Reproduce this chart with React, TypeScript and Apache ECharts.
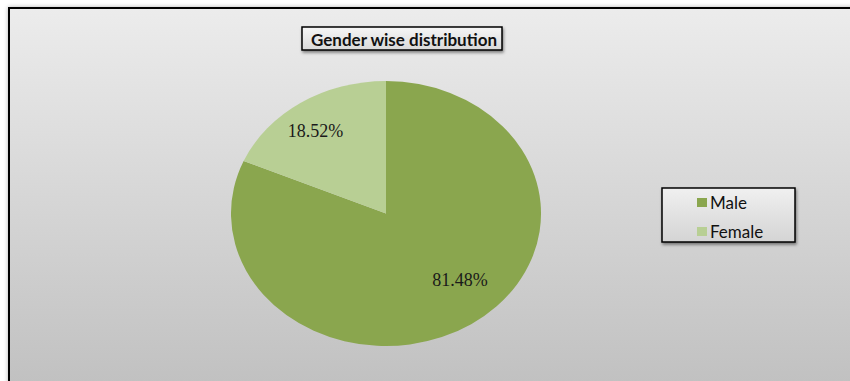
import React, { useEffect, useRef } from "react";
import * as echarts from "echarts";

const categories = ["Male", "Female"];
const percents = [81.48, 18.52];
const colors = ["#8aa64e", "#b8cf94"];
const labelTexts = ["81.48%", "18.52%"];
const titleText = "Gender wise distribution";

// layout (pixels)
const CX = 386;
const CY = 213.5;
const RY = 132.5;
const RX = 155;
const labelRadiusX = [0.87, 0.828];
const labelRadiusY = [0.6, 0.746];

function buildSeries() {
  const total = percents.reduce((a, b) => a + b, 0);
  return categories.map((name, i) => ({
    type: "custom",
    name,
    coordinateSystem: "none",
    itemStyle: { color: colors[i] },
    data: [[percents[i]]],
    renderItem: (params: any, api: any) => {
      const idx = params.seriesIndex;
      let before = 0;
      for (let k = 0; k < idx; k++) before += percents[k];
      const v = api.value(0);
      const start = -Math.PI / 2 + (before / total) * Math.PI * 2;
      const end = start + (v / total) * Math.PI * 2;
      const mid = (start + end) / 2;
      return {
        type: "group",
        children: [
          {
            type: "sector",
            x: CX,
            y: CY,
            scaleX: RX / RY,
            scaleY: 1,
            shape: { cx: 0, cy: 0, r: RY, r0: 0, startAngle: start, endAngle: end, clockwise: true },
            style: { fill: colors[idx] },
          },
          {
            type: "text",
            x: CX + Math.cos(mid) * RX * labelRadiusX[idx],
            y: CY + Math.sin(mid) * RY * labelRadiusY[idx],
            style: {
              text: labelTexts[idx],
              fill: "#1a1a1a",
              font: "18px 'Liberation Serif'",
              align: "center",
              verticalAlign: "middle",
            },
          },
        ],
      };
    },
  }));
}

export default function App() {
  const ref = useRef<HTMLDivElement>(null);
  useEffect(() => {
    document.body.style.margin = "0";
    const chart = echarts.init(ref.current!, null, { renderer: "svg" });
    const boxFill = new echarts.graphic.LinearGradient(0, 0, 0, 1, [
      { offset: 0, color: "#f6f6f6" },
      { offset: 1, color: "#d9d9d9" },
    ]);
    chart.setOption({
      animation: false,
      backgroundColor: "#ffffff",
      legend: {
        orient: "vertical",
        left: 697,
        top: 194,
        itemWidth: 10,
        itemHeight: 9,
        itemGap: 12,
        icon: "rect",
        data: categories,
        textStyle: { fontFamily: "Lato", fontSize: 17, color: "#111", padding: [0, 0, 0, -2] },
        padding: 0,
      },
      graphic: [
        {
          type: "rect",
          z: -10,
          shape: { x: 9, y: 8, width: 900, height: 400 },
          style: {
            fill: new echarts.graphic.LinearGradient(0, 0, 0, 1, [
              { offset: 0, color: "#ececec" },
              { offset: 1, color: "#bebebe" },
            ]),
            stroke: "#000",
            lineWidth: 2,
            shadowBlur: 4,
            shadowColor: "rgba(0,0,0,0.3)",
          },
        },
        {
          type: "rect",
          z: -5,
          shape: { x: 302, y: 27, width: 200, height: 23 },
          style: {
            fill: boxFill,
            stroke: "#000",
            lineWidth: 1.5,
            shadowBlur: 3,
            shadowOffsetX: 1,
            shadowOffsetY: 2,
            shadowColor: "rgba(0,0,0,0.45)",
          },
        },
        {
          type: "text",
          z: 5,
          x: 404,
          y: 39,
          style: {
            text: titleText,
            font: "bold 17px Lato",
            fill: "#111",
            align: "center",
            verticalAlign: "middle",
          },
        },
        {
          type: "rect",
          z: -5,
          shape: { x: 662, y: 188, width: 133, height: 54 },
          style: {
            fill: new echarts.graphic.LinearGradient(0, 0, 0, 1, [
              { offset: 0, color: "#f0f0f0" },
              { offset: 1, color: "#d4d4d4" },
            ]),
            stroke: "#000",
            lineWidth: 1.5,
            shadowBlur: 3,
            shadowOffsetX: 1,
            shadowOffsetY: 2,
            shadowColor: "rgba(0,0,0,0.45)",
          },
        },
      ],
      series: buildSeries(),
    });
    return () => chart.dispose();
  }, []);
  return <div ref={ref} style={{ width: 850, height: 381 }} />;
}
